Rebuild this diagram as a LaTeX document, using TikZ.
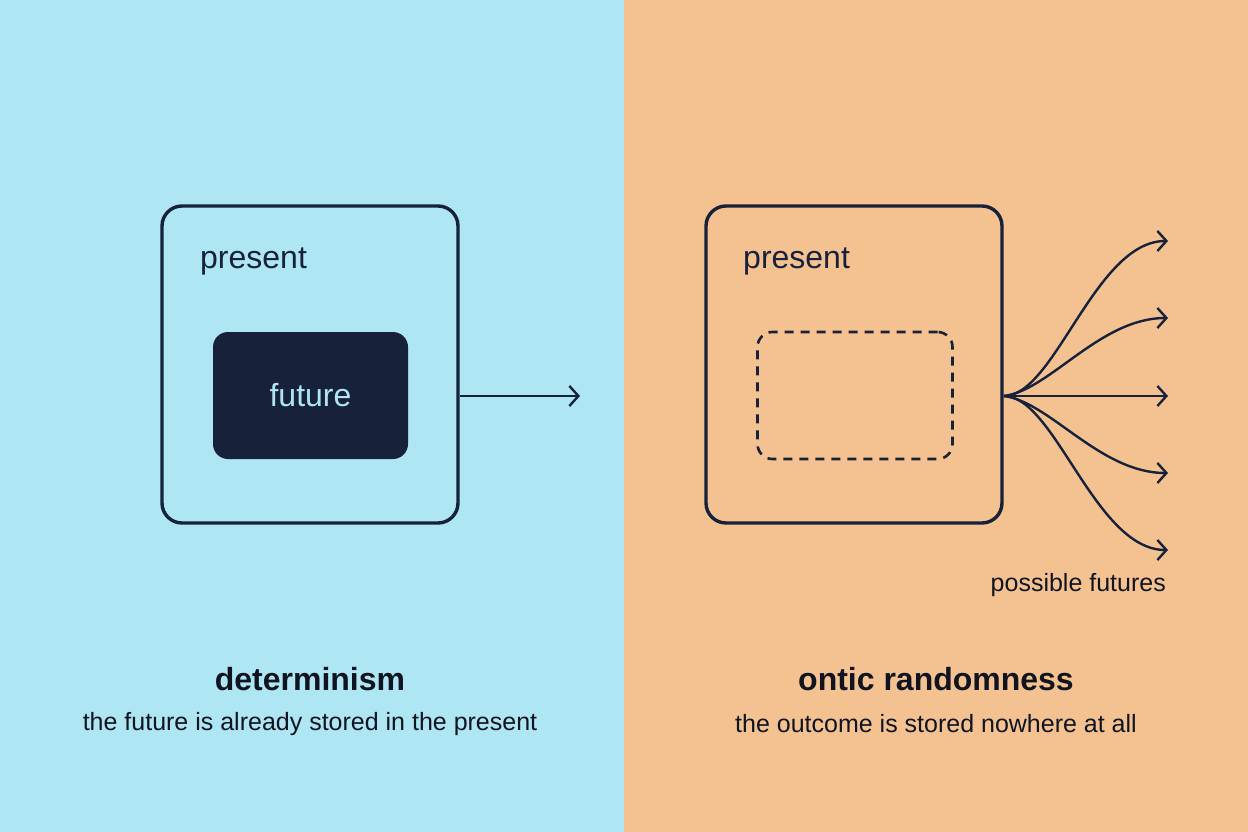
\documentclass[tikz,border=0pt]{standalone}
\usepackage{fontspec}
\setmainfont{Liberation Sans}
\usetikzlibrary{arrows.meta}
\definecolor{bgblue}{RGB}{174,230,243}
\definecolor{bgpeach}{RGB}{244,194,145}
\definecolor{ink}{RGB}{24,33,58}
\definecolor{titleink}{RGB}{16,20,32}
\tikzset{
  frame/.style={draw=ink, line width=3.4pt, rounded corners=20pt, minimum width=296pt, minimum height=317pt, inner sep=0pt},
  innerbox/.style={rounded corners=15pt, minimum width=195pt, minimum height=127pt, inner sep=0pt},
  lbl/.style={text=ink, font=\fontsize{32}{38}\selectfont, inner sep=0pt},
  title/.style={text=titleink, font=\fontsize{32}{38}\selectfont\bfseries, inner sep=0pt},
  sub/.style={text=titleink, font=\fontsize{25}{30}\selectfont, inner sep=0pt},
  conn/.style={draw=ink, line width=2.4pt, -{Straight Barb[length=9pt, width=20pt, line width=2.4pt]}},
}
\begin{document}
\begin{tikzpicture}[x=1pt, y=-1pt]
\fill[bgblue] (0,0) rectangle (624,832);
\fill[bgpeach] (624,0) rectangle (1248,832);
\useasboundingbox (0,0) rectangle (1248,832);

% left panel
\node[frame] (lbox) at (310,364.5) {};
\node[lbl, anchor=base west] (lpres) at (200,268) {present};
\node[innerbox, fill=ink, text=bgblue, font=\fontsize{32}{38}\selectfont] (fut) at (310.5,395.5) {future};
\coordinate (lend) at (580,396);
\draw[conn] (lbox.east |- lend) -- (lend);
\node[title] (det) at (310,679) {determinism};
\node[sub] (detsub) at (310,724) {the future is already stored in the present};

% right panel
\node[frame] (rbox) at (854,364.5) {};
\node[lbl, anchor=base west] (rpres) at (743,268) {present};
\node[innerbox, draw=ink, line width=2.6pt, dash pattern=on 9pt off 7pt] (empty) at (855,395.5) {};
\coordinate (o) at (1004,396);
\coordinate (f1) at (1168,241);
\coordinate (f2) at (1168,318);
\coordinate (f3) at (1168,396);
\coordinate (f4) at (1168,473);
\coordinate (f5) at (1168,550);
\draw[conn] (o) .. controls (1055,396) and (1095,241) .. (f1);
\draw[conn] (o) .. controls (1050,390) and (1100,318) .. (f2);
\draw[conn] (o) -- (f3);
\draw[conn] (o) .. controls (1050,402) and (1100,473) .. (f4);
\draw[conn] (o) .. controls (1055,396) and (1095,550) .. (f5);
\node[sub, anchor=east] (pf) at (1166,585) {possible futures};
\node[title] (ont) at (936,679) {ontic randomness};
\node[sub] (ontsub) at (936,724) {the outcome is stored nowhere at all};
\end{tikzpicture}
\end{document}
